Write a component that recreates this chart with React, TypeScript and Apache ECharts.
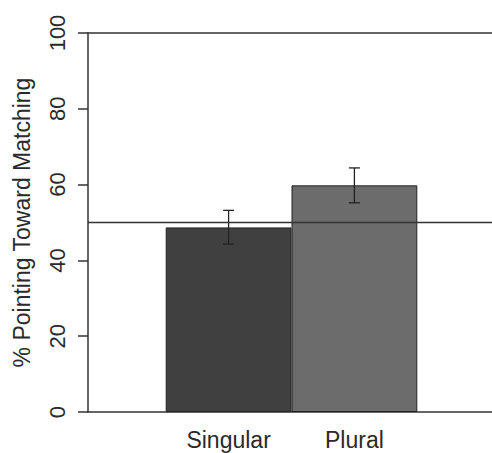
import React, { useEffect, useRef } from "react";
import * as echarts from "echarts";

const categories = ["Singular", "Plural"];
const means = [48.7, 59.8];
const errLow = [44.3, 55.2];
const errHigh = [53.2, 64.4];
const chanceLevel = 50;
const yTicks = { min: 0, max: 100, interval: 20 };
const barColors = ["#404040", "#6c6c6c"];

export default function App() {
  const ref = useRef<HTMLDivElement>(null);
  useEffect(() => {
    const chart = echarts.init(ref.current!, undefined, { renderer: "svg" });
    const axisColor = "#333";
    const textColor = "#2a2a2a";
    const font = "Liberation Sans, Arial, Helvetica, sans-serif";
    chart.setOption({
      animation: false,
      backgroundColor: "#fff",
      grid: [
        { left: 88, right: 0, top: 33, bottom: 41 },
        { left: 165.7, right: 74.7, top: 33, bottom: 41 },
      ],
      xAxis: [
        {
          type: "value", gridIndex: 0, min: 0, max: 1, position: "bottom",
          axisLine: { show: true, lineStyle: { color: axisColor, width: 1.5 } },
          axisTick: { show: false }, axisLabel: { show: false }, splitLine: { show: false },
        },
        {
          type: "value", gridIndex: 0, min: 0, max: 1, position: "top",
          axisLine: { show: true, lineStyle: { color: axisColor, width: 1.5 } },
          axisTick: { show: false }, axisLabel: { show: false }, splitLine: { show: false },
        },
        {
          type: "category", gridIndex: 1, data: categories, boundaryGap: true,
          axisLine: { show: false }, axisTick: { show: false },
          axisLabel: { fontSize: 23, color: textColor, fontFamily: font, margin: 16 },
        },
      ],
      yAxis: [
        {
          type: "value", gridIndex: 0, min: yTicks.min, max: yTicks.max, interval: yTicks.interval,
          axisLine: { show: true, lineStyle: { color: axisColor, width: 1.5 } },
          axisTick: { show: true, length: 10, lineStyle: { color: axisColor, width: 1.5 } },
          splitLine: { show: false },
          axisLabel: { rotate: 90, fontSize: 22, color: textColor, fontFamily: font, margin: 20 },
          name: "% Pointing Toward Matching", nameLocation: "middle", nameRotate: 90, nameGap: 55,
          nameTextStyle: { fontSize: 23, color: textColor, fontFamily: font },
        },
        {
          type: "value", gridIndex: 1, min: yTicks.min, max: yTicks.max, show: false,
        },
      ],
      series: [
        {
          type: "bar", xAxisIndex: 2, yAxisIndex: 1, barCategoryGap: "0%",
          data: means.map((v, i) => ({ value: v, itemStyle: { color: barColors[i] } })),
          itemStyle: { borderColor: "#222", borderWidth: 1 },
          z: 2,
        },
        {
          type: "custom", xAxisIndex: 2, yAxisIndex: 1, z: 3,
          data: categories.map((_, i) => [i, errLow[i], errHigh[i]]),
          renderItem: (params: any, api: any) => {
            const x = api.value(0);
            const lo = api.coord([x, api.value(1)]);
            const hi = api.coord([x, api.value(2)]);
            const hw = 5.5;
            const style = { stroke: "#222", lineWidth: 1.3 };
            return {
              type: "group",
              children: [
                { type: "line", shape: { x1: lo[0], y1: lo[1], x2: hi[0], y2: hi[1] }, style },
                { type: "line", shape: { x1: lo[0] - hw, y1: lo[1], x2: lo[0] + hw, y2: lo[1] }, style },
                { type: "line", shape: { x1: hi[0] - hw, y1: hi[1], x2: hi[0] + hw, y2: hi[1] }, style },
              ],
            };
          },
        },
        {
          type: "line", xAxisIndex: 0, yAxisIndex: 0, z: 4,
          data: [[0, chanceLevel], [1, chanceLevel]],
          symbol: "none", lineStyle: { color: axisColor, width: 1.3 },
        },
      ],
    });
    return () => chart.dispose();
  }, []);
  return (
    <div
      ref={ref}
      style={{ position: "fixed", left: 0, top: 0, width: 492, height: 453 }}
    />
  );
}
